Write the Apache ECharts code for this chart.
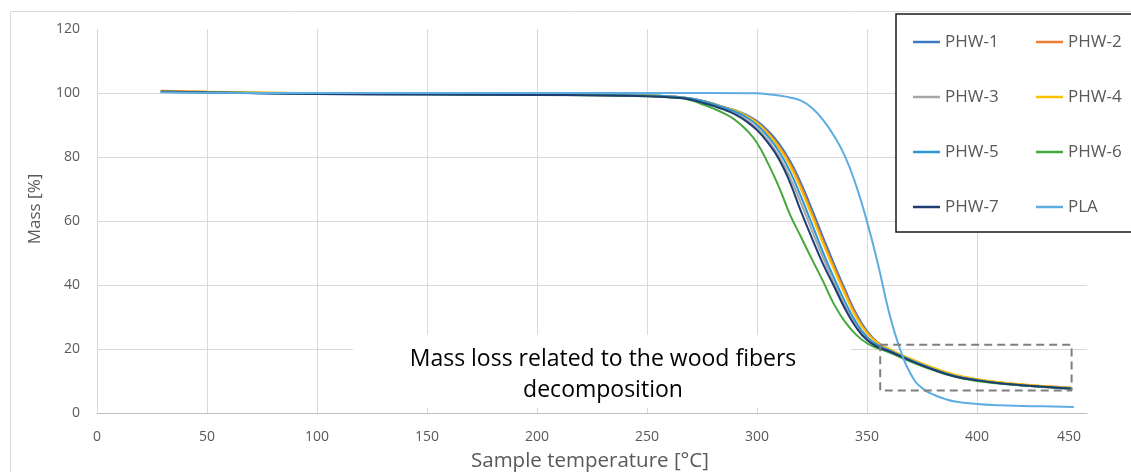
<!DOCTYPE html>
<html>
<head>
<meta charset="utf-8">
<script src="https://cdn.jsdelivr.net/npm/echarts@6/dist/echarts.min.js"></script>
<style>
html,body{margin:0;padding:0;background:#fff;}
#c{width:1131px;height:472px;}
</style>
</head>
<body>
<div id="c"></div>
<script>
// ---- data ----
const temps = [29, 50, 100, 150, 200, 250, 265, 270, 275, 280, 285, 290, 295, 300, 305, 310, 315, 320, 325, 330, 335, 340, 345, 350, 355, 360, 370, 380, 390, 400, 410, 420, 430, 443];
const phw1 = [100.4, 100.2, 99.8, 99.7, 99.5, 99.2, 98.7, 98.3, 97.6, 96.7, 95.6, 94.6, 93.2, 91.2, 88.2, 84.2, 78.8, 71.8, 63.6, 55.0, 46.6, 38.6, 31.2, 25.6, 22.0, 19.8, 16.6, 13.9, 11.7, 10.4, 9.5, 8.8, 8.3, 7.8];
const phw2 = [100.7, 100.4, 99.9, 99.7, 99.5, 99.2, 98.7, 98.2, 97.5, 96.6, 95.4, 94.4, 92.9, 90.8, 87.6, 83.4, 78.0, 70.8, 62.4, 53.8, 45.6, 37.8, 30.6, 25.2, 21.9, 20.0, 16.8, 14.1, 11.9, 10.5, 9.6, 8.9, 8.4, 7.9];
const phw3 = [100.4, 100.2, 99.8, 99.6, 99.4, 99.1, 98.5, 98.0, 97.2, 96.2, 95.0, 93.7, 91.8, 89.0, 85.2, 80.2, 73.6, 65.6, 57.0, 48.6, 40.6, 33.4, 27.4, 23.2, 20.8, 19.4, 16.4, 13.7, 11.5, 10.2, 9.3, 8.7, 8.2, 7.7];
const phw4 = [100.6, 100.4, 99.9, 99.7, 99.5, 99.2, 98.7, 98.3, 97.6, 96.7, 95.5, 94.5, 92.9, 90.6, 87.2, 82.9, 77.2, 69.9, 61.5, 53.0, 44.8, 37.0, 30.0, 24.9, 21.8, 20.0, 16.9, 14.2, 12.0, 10.6, 9.7, 9.0, 8.4, 7.9];
const phw5 = [100.3, 100.1, 99.8, 99.6, 99.5, 99.2, 98.7, 98.3, 97.6, 96.6, 95.4, 94.2, 92.5, 90.0, 86.4, 81.7, 75.5, 67.6, 59.0, 50.3, 42.2, 34.8, 28.4, 23.8, 21.2, 19.6, 16.5, 13.8, 11.6, 10.3, 9.4, 8.7, 8.2, 7.7];
const phw6 = [100.4, 100.2, 99.8, 99.6, 99.5, 99.0, 98.4, 97.7, 96.5, 95.2, 93.6, 91.6, 88.6, 84.4, 78.0, 70.6, 62.0, 55.0, 48.0, 41.2, 34.0, 28.5, 24.5, 21.8, 20.2, 19.0, 16.0, 13.4, 11.3, 10.0, 9.2, 8.6, 8.1, 7.5];
const phw7 = [100.5, 100.2, 99.7, 99.5, 99.4, 99.0, 98.4, 97.9, 97.0, 96.0, 94.8, 93.3, 91.2, 88.4, 84.4, 79.3, 72.0, 63.0, 54.6, 46.6, 39.6, 32.6, 26.8, 22.8, 20.6, 19.3, 16.3, 13.6, 11.4, 10.2, 9.3, 8.7, 8.2, 7.6];
const plaTemps = [29, 50, 100, 150, 200, 250, 300, 305, 310, 315, 320, 325, 330, 335, 340, 345, 350, 355, 360, 365, 370, 375, 380, 385, 390, 400, 410, 420, 430, 444];
const plaMass = [100.2, 100.1, 100.0, 100.0, 100.0, 100.0, 99.9, 99.6, 99.2, 98.6, 97.6, 95.3, 91.6, 86.6, 80.2, 71.2, 59.8, 46.5, 31.5, 20.0, 12.0, 7.8, 5.8, 4.5, 3.6, 2.8, 2.4, 2.2, 2.1, 1.9];
const boxT = [356, 443, 443, 356, 356];
const boxM = [21.3, 21.3, 7.0, 7.0, 21.3];
const seriesNames = ['PHW-1', 'PHW-2', 'PHW-3', 'PHW-4', 'PHW-5', 'PHW-6', 'PHW-7', 'PLA'];
const colors = ['#3d78c2', '#ed7d31', '#a5a5a5', '#ffc000', '#2e96d6', '#45a83a', '#1f3d72', '#5dade2'];
const annotation = 'Mass loss related to the wood fibers\ndecomposition';
const xTitle = 'Sample temperature [°C]';
const yTitle = 'Mass [%]';

const zip = (xs, ys) => xs.map((x, i) => [x, ys[i]]);
const values = [phw1, phw2, phw3, phw4, phw5, phw6, phw7];
const FONT = '"Open Sans", sans-serif';

const series = values.map((v, i) => ({
  name: seriesNames[i], type: 'line', data: zip(temps, v),
  symbol: 'none', smooth: 0.5,
  lineStyle: { width: 2, color: colors[i] }, itemStyle: { color: colors[i] }, z: 3
}));
series.push({
  name: 'PLA', type: 'line', data: zip(plaTemps, plaMass),
  symbol: 'none', smooth: 0.5,
  lineStyle: { width: 2, color: colors[7] }, itemStyle: { color: colors[7] }, z: 3
});
series.push({
  name: 'box', type: 'line', data: zip(boxT, boxM), symbol: 'none',
  lineStyle: { width: 2, color: '#7f7f7f', type: [8, 5] }, z: 4, silent: true
});

const legendCommon = {
  orient: 'vertical', itemWidth: 27, itemHeight: 2.5, itemGap: 37,
  icon: 'rect', padding: 0,
  textStyle: { fontFamily: FONT, fontSize: 17, color: '#595959', lineHeight: 18 },
  top: 33, z: 10
};

const chart = echarts.init(document.getElementById('c'), null, { renderer: 'canvas' });
chart.setOption({
  animation: false,
  color: colors,
  grid: { left: 97, right: 44, top: 29, bottom: 59, containLabel: false },
  xAxis: {
    type: 'value', min: 0, max: 450, interval: 50,
    axisLine: { show: true, lineStyle: { color: '#bfbfbf', width: 1 } },
    axisTick: { show: false },
    splitLine: { show: true, showMaxLine: false, lineStyle: { color: '#d9d9d9', width: 1 } },
    axisLabel: {
      margin: 17, color: '#595959', fontFamily: FONT, fontSize: 14,
      formatter: v => v === 450 ? '{s|450}' : String(v),
      rich: { s: { padding: [0, 36, 0, 0], color: '#595959', fontFamily: FONT, fontSize: 14 } }
    }
  },
  yAxis: {
    type: 'value', min: 0, max: 120, interval: 20,
    axisLine: { show: false }, axisTick: { show: false },
    splitLine: { show: true, showMaxLine: false, lineStyle: { color: '#d9d9d9', width: 1 } },
    axisLabel: { margin: 17, color: '#595959', fontFamily: FONT, fontSize: 14 }
  },
  legend: [
    Object.assign({}, legendCommon, { left: 913, data: ['PHW-1', 'PHW-3', 'PHW-5', 'PHW-7'] }),
    Object.assign({}, legendCommon, { left: 1036, data: ['PHW-2', 'PHW-4', 'PHW-6', 'PLA'] })
  ],
  graphic: [
    { type: 'rect', z: -1, silent: true, shape: { x: 10.5, y: 11.5, width: 1300, height: 600 },
      style: { fill: 'none', stroke: '#d9d9d9', lineWidth: 1 } },
    { type: 'rect', z: 5, silent: true, shape: { x: 896, y: 14, width: 400, height: 218 },
      style: { fill: '#fff', stroke: '#1a1a1a', lineWidth: 1.5 } },
    { type: 'rect', z: 2, silent: true, shape: { x: 353, y: 335, width: 498, height: 73 },
      style: { fill: '#fff' } },
    { type: 'text', z: 6, silent: true, x: 603, y: 375,
      style: { text: annotation, fontFamily: FONT, fontSize: 23, lineHeight: 31, fill: '#000',
        align: 'center', verticalAlign: 'middle' } },
    { type: 'text', z: 6, silent: true, x: 590, y: 461,
      style: { text: xTitle, fontFamily: FONT, fontSize: 20.5, fill: '#595959',
        align: 'center', verticalAlign: 'middle' } },
    { type: 'text', z: 6, silent: true, x: 35, y: 209, rotation: Math.PI / 2,
      style: { text: yTitle, fontFamily: FONT, fontSize: 17, fill: '#595959',
        align: 'center', verticalAlign: 'middle' } }
  ],
  series: series
});
</script>
</body>
</html>
